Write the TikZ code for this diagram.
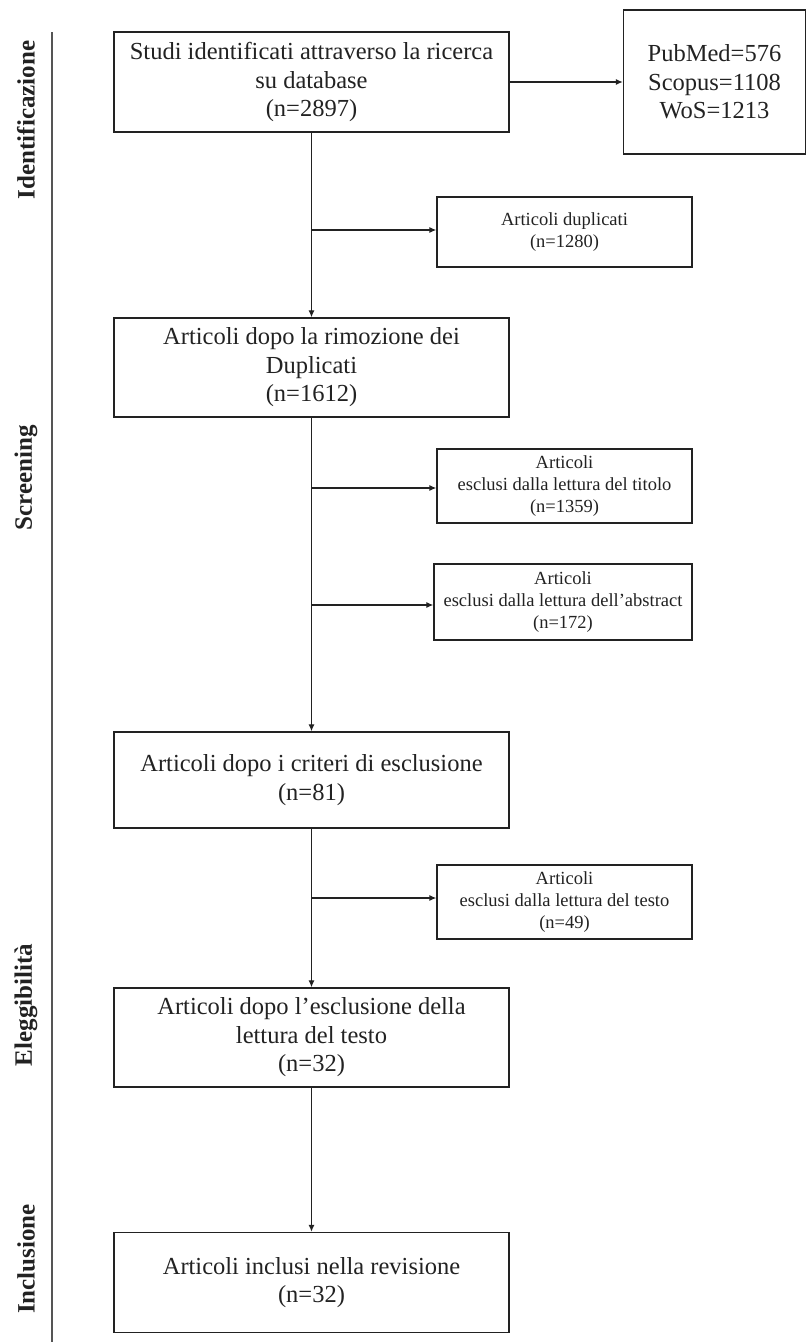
\documentclass[tikz,border=0pt]{standalone}
\usepackage{fontspec}
\setmainfont{Liberation Serif}
\usetikzlibrary{arrows.meta}
\definecolor{ink}{HTML}{222222}
\definecolor{rule}{HTML}{555555}
\tikzset{
  mainbox/.style={draw=ink, line width=1.3pt, text=ink, align=center, minimum width=395pt,
    inner sep=0pt, font=\fontsize{24.5}{28.5}\selectfont},
  sidebox/.style={draw=ink, line width=1.3pt, text=ink, align=center, minimum width=255pt,
    inner sep=0pt, font=\fontsize{18.5}{22}\selectfont},
  dbbox/.style={draw=ink, line width=1.3pt, text=ink, align=center, minimum width=182pt,
    minimum height=144pt, inner sep=0pt, font=\fontsize{24.5}{28.5}\selectfont},
  arr/.style={draw=ink, line width=1.2pt, -{Latex[length=7pt,width=6pt]}},
  phase/.style={rotate=90, text=ink, font=\bfseries\fontsize{25}{28}\selectfont, inner sep=0pt}
}
\begin{document}
\begin{tikzpicture}[x=1pt,y=-1pt]
\useasboundingbox (0,0) rectangle (807,1342);
% phase rule and labels
\coordinate (rtop) at (52,32);
\coordinate (rbot) at (52,1342);
\draw[rule, line width=2pt] (rtop) -- (rbot);
\node[phase] (p1) at (26,120) {Identificazione};
\node[phase] (p2) at (26,478) {Screening};
\node[phase] (p3) at (26,1005) {Eleggibilità};
\node[phase] (p4) at (26,1259) {Inclusione};
% main column
\node[mainbox, minimum height=100pt] (b1) at (311.5,82) {Studi identificati attraverso la ricerca\\su database\\(n=2897)};
\node[dbbox] (db) at (714.5,82) {PubMed=576\\Scopus=1108\\WoS=1213};
\node[mainbox, minimum height=99pt] (b2) at (311.5,367.5) {Articoli dopo la rimozione dei\\Duplicati\\(n=1612)};
\node[mainbox, minimum height=96pt] (b3) at (311.5,780) {Articoli dopo i criteri di esclusione\\(n=81)};
\node[mainbox, minimum height=99pt] (b4) at (311.5,1037.5) {Articoli dopo l’esclusione della\\lettura del testo\\(n=32)};
\node[mainbox, minimum height=100pt] (b5) at (311.5,1282.5) {Articoli inclusi nella revisione\\(n=32)};
% side boxes
\node[sidebox, minimum height=70pt] (s1) at (564.5,232) {Articoli duplicati\\(n=1280)};
\node[sidebox, minimum height=74pt] (s2) at (564.5,486) {Articoli\\esclusi dalla lettura del titolo\\(n=1359)};
\node[sidebox, minimum width=258pt, minimum height=76pt] (s3) at (563,602) {Articoli\\esclusi dalla lettura dell’abstract\\(n=172)};
\node[sidebox, minimum height=74pt] (s4) at (564.5,902) {Articoli\\esclusi dalla lettura del testo\\(n=49)};
% connectors
\draw[arr] (b1) -- (db);
\draw[arr] (b1) -- (b2);
\draw[arr] (b2) -- (b3);
\draw[arr] (b3) -- (b4);
\draw[arr] (b4) -- (b5);
\coordinate (j1) at (311.5,230);
\coordinate (j2) at (311.5,488);
\coordinate (j3) at (311.5,605);
\coordinate (j4) at (311.5,898);
\draw[arr] (j1) -- (s1.west |- j1);
\draw[arr] (j2) -- (s2.west |- j2);
\draw[arr] (j3) -- (s3.west |- j3);
\draw[arr] (j4) -- (s4.west |- j4);
\end{tikzpicture}
\end{document}
